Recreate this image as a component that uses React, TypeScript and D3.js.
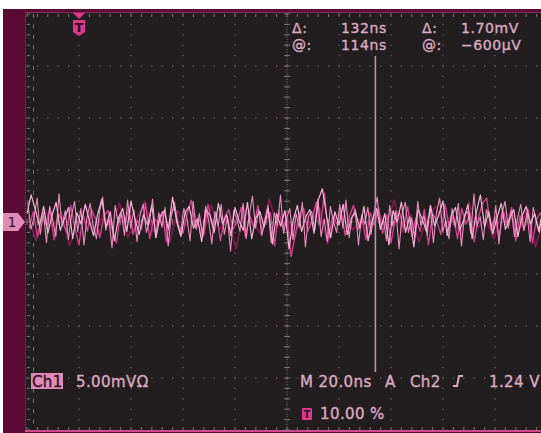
import React from 'react';
import * as d3 from 'd3';

// scope settings: 20 ns/div, 5 mV/div, trigger at 10 %
const TIME_DOMAIN = [-20, 180]; // ns, 10 divisions
const VOLT_DOMAIN = [-20, 20]; // mV, 8 divisions
const CURSOR_T = 114; // ns

// sampled noise (mV), light pink acquisition
const traceA = [
	0.8, 2.6, 1.2, -0.4, 1.5, -1.1, 0.6, 1.9, -0.8, 0.3, 1.4, -1.6, 0.9, -0.2, 1.7, 0.1, -1.3, 0.8, 2.2, -0.5,
	1.0, -1.8, 0.4, 1.3, -0.9, 2.0, 0.2, -1.2, 0.7, -0.3, 1.6, -1.5, 0.5, 1.1, -0.7, 2.4, 0.0, -1.4, 0.9, 1.5,
	-0.6, 0.3, -1.9, 1.2, 0.6, -1.0, 1.8, -0.2, 0.7, -1.3, 1.4, 0.1, -0.8, 1.9, -1.6, 0.4, 1.0, -0.5, 1.3, -2.1,
	0.8, -0.4, 1.1, -2.6, 0.2, 1.6, -0.9, 0.5, 1.2, -1.1, 2.1, 3.2, 0.6, -1.5, 1.0, -0.3, 1.7, -1.2, 0.4, 0.9,
	-0.6, 1.5, -1.8, 0.2, 1.3, -0.7, 0.8, -2.2, 1.1, 0.0, 1.9, -1.0, 0.5, -2.4, 1.2, 0.3, -0.9, 1.6, -0.4, 0.7,
	2.0, -1.3, 0.6, 1.4, -0.8, 0.2, 1.7, -1.6, 0.9, 2.6, -0.5, 1.0, -1.1, 0.4, 1.8, -0.7, 0.3, 1.2, -1.4, 0.6,
	1.5, -0.2, 0.8, -0.9, 1.1,
];

// second light pink acquisition, finer sampling
const traceD = [
	1.9, -0.7, 0.4, 2.3, -1.2, 0.9, -2.0, 1.5, 0.2, -1.4, 2.7, -0.3, 1.1, -1.7, 0.6, 2.0, -0.9, 1.3, -2.2, 0.5,
	1.8, -0.4, -1.6, 1.0, 2.4, -0.8, 0.3, -2.5, 1.6, -0.1, 0.8, -1.3, 2.1, -0.6, 1.2, -1.9, 0.7, 1.7, -1.0, 0.0,
	2.2, -1.5, 0.9, -0.5, 1.4, -2.3, 0.6, 1.9, -0.2, -1.1, 1.3, 0.4, -1.8, 2.0, -0.7, 0.8, -1.4, 1.5, 0.1, -2.1,
	1.0, -0.4, 1.7, -1.2, 0.5, -2.8, 1.1, 0.3, -0.9, 1.8, -1.6, 0.7, 2.5, -0.6, 1.2, -1.3, 0.2, 1.6, -2.0, 0.9,
	-0.3, 2.6, -1.1, 0.4, 1.3, -1.7, 0.8, -0.5, 1.9, -2.4, 0.6, 1.0, -0.8, 2.2, -1.4, 0.3, -1.9, 1.5, 0.0, -1.0,
	1.7, -0.6, 2.1, -1.5, 0.5, 1.2, -2.2, 0.7, -0.2, 1.4, -1.2, 0.9, 2.4, -0.7, 0.2, -1.8, 1.6, -0.4, 1.1, -2.6,
	0.8, 1.9, -1.0, 0.4, -1.5, 2.0, -0.3, 0.6, -1.3, 1.5, -2.0, 0.9, 2.3, -0.9, 0.1, -1.6, 1.3, -0.5, 1.8, -2.3,
	0.7, 1.0, -1.1, 2.7, -0.4, 0.5, -1.7, 1.2, 0.3, -1.2, 1.6, -2.1, 0.8, 2.0, -0.6, 1.1, -1.4, 0.4, 1.7, -0.8,
	0.9, -1.9, 1.4, 0.2, -1.0, 1.3, -0.5, 2.1,
];

// magenta acquisition
const traceB = [
	-0.6, 1.0, -1.4, 0.5, -0.2, 1.3, -1.7, 0.8, 0.1, -1.0, 1.6, -0.5, -2.2, 0.7, -0.9, 1.2, 0.3, -1.5, 0.6, 1.1,
	-0.8, -2.0, 0.9, -0.3, 1.4, -1.2, 0.2, -0.7, 1.8, -1.6, 0.4, -0.1, 1.0, -1.9, 0.6, 1.5, -0.4, -1.1, 0.8, 2.1,
	-0.6, 0.3, -1.3, 1.7, -0.2, 0.9, -1.8, 0.5, 1.2, -0.7, 0.0, 1.4, -1.4, 0.7, -0.5, 1.6, -1.0, 0.2, 0.9, -2.3,
	1.1, -0.6, 0.4, -3.3, -1.2, 0.8, 1.3, -0.9, 0.1, 1.9, -0.4, 2.8, -1.6, 0.6, -0.2, 1.1, -1.3, 0.5, 1.6, -0.8,
	0.3, -1.7, 0.9, -0.3, 1.4, -1.1, 0.7, -2.0, 0.2, 1.0, -0.6, 1.5, -1.4, 0.4, -0.9, 1.2, -2.2, 0.8, 0.1, -1.2,
	1.7, -0.5, 0.6, -1.6, 1.3, -0.2, 0.9, -1.9, 0.4, 1.8, 2.3, -0.7, 0.5, -1.4, 1.0, -0.3, 1.4, -1.8, 0.6, -0.8,
	1.2, -2.0, 0.3, 0.9, -0.4,
];

// dark persistence points
const traceC = [
	0.5, -1.8, 1.2, -0.4, 0.9, -2.3, 0.3, 1.5, -1.1, 0.7, -0.6, 1.8, -1.5, 0.2, 2.0, -0.9, 0.6, -2.0, 1.1, -0.3,
	0.8, -1.4, 1.6, -0.7, 0.4, -2.6, 1.3, 0.0, -1.2, 2.2, -0.5, 0.9, -1.7, 1.0, -0.2, 1.4, -2.1, 0.5, 1.7, -0.8,
	0.3, -1.5, 1.2, -0.6, 2.1, -1.0, 0.7, -1.9, 0.4, 1.5, -0.3, 0.8, -1.3, 1.9, -0.6, 0.2, -1.6, 1.1, 0.5, -0.9,
	1.3, -2.4, 0.6,
];

const DT_A = 1.6;
const DT_B = 1.6;
const DT_C = 3.2;
const DT_D = 1.2;

const readoutRows = [
	{ label: '\u0394:', time: '132ns', vlabel: '\u0394:', volt: '1.70mV' },
	{ label: '@:', time: '114ns', vlabel: '@:', volt: '\u2212600\u00b5V' },
];

const W = 541;
const H = 433;
const X0 = 27;
const X1 = 547;
const Y0 = 14;
const Y1 = 430;

const App: React.FC = () => {
	const x = d3.scaleLinear().domain(TIME_DOMAIN).range([X0, X1]);
	const y = d3.scaleLinear().domain(VOLT_DOMAIN).range([Y1, Y0]);

	const line = (dt: number, offset: number) =>
		d3
			.line<number>()
			.x((_, i) => x(TIME_DOMAIN[0] + offset + i * dt))
			.y((d) => y(d));

	const xDivs = d3.range(0, 11).map((i) => TIME_DOMAIN[0] + i * 20);
	const yDivs = d3.range(0, 9).map((i) => VOLT_DOMAIN[0] + i * 5);
	const xMinor = d3.range(0, 51).map((i) => TIME_DOMAIN[0] + i * 4);
	const yMinor = d3.range(0, 41).map((i) => VOLT_DOMAIN[0] + i * 1);

	const font = "'DejaVu Sans', sans-serif";
	const txt = '#dcaac2';
	const hot = '#e2358c';
	const cx = x(80);
	const cy = y(0);
	const tx = x(0);

	return (
		<svg width={W} height={H} style={{ position: 'absolute', left: 0, top: 0 }}>
			<rect x={0} y={0} width={W} height={H} fill="#ffffff" />
			<rect x={3} y={9} width={W - 3} height={H - 9} fill="#5b0a33" />
			<rect x={25} y={12} width={W - 25} height={Y1 - 12} fill="#221e1f" />
			<line x1={25} x2={W} y1={12.5} y2={12.5} stroke="#8a2a5c" strokeWidth={1} />
			<line x1={25.5} x2={25.5} y1={12} y2={Y1} stroke="#a03a70" strokeWidth={1} strokeDasharray="1 1" />
			<rect x={25} y={Y1} width={W - 25} height={2} fill="#d2488e" />

			{/* dotted grid */}
			<g fill="#676062">
				{xDivs.slice(1, 10).map((t) =>
					yMinor.map((v) => <rect key={`v${t}_${v}`} x={x(t) - 0.6} y={y(v) - 0.6} width={1.3} height={1.3} />),
				)}
				{yDivs.slice(1, 8).map((v) =>
					xMinor.map((t) => <rect key={`h${t}_${v}`} x={x(t) - 0.6} y={y(v) - 0.6} width={1.3} height={1.3} />),
				)}
			</g>

			{/* centre cross with fine ticks */}
			<g stroke="#7c7376" strokeWidth={1}>
				<line x1={X0} x2={X1} y1={cy} y2={cy} strokeDasharray="1 1.5" />
				<line x1={cx} x2={cx} y1={Y0} y2={Y1} strokeDasharray="1 1.5" />
				{xMinor.map((t) => (
					<line key={`cx${t}`} x1={x(t)} x2={x(t)} y1={cy - 3} y2={cy + 3} />
				))}
				{yMinor.map((v) => (
					<line key={`cy${v}`} x1={cx - 3} x2={cx + 3} y1={y(v)} y2={y(v)} />
				))}
				{xMinor.map((t) => (
					<line key={`et${t}`} x1={x(t)} x2={x(t)} y1={Y0} y2={Y0 + 3} />
				))}
				{xMinor.map((t) => (
					<line key={`eb${t}`} x1={x(t)} x2={x(t)} y1={Y1 - 3} y2={Y1} />
				))}
				{yMinor.map((v) => (
					<line key={`el${v}`} x1={X0} x2={X0 + 3} y1={y(v)} y2={y(v)} />
				))}
				<line x1={33.5} x2={33.5} y1={Y0} y2={Y1} strokeDasharray="4 6.4" />
			</g>

			{/* traces */}
			<g fill="none" strokeLinejoin="round">
				<path d={line(DT_C, 0.4)(traceC) ?? ''} stroke="#7e1c4c" strokeWidth={1.6} />
				<path d={line(DT_B, 0.8)(traceB) ?? ''} stroke="#d2408e" strokeWidth={1.4} />
				<path d={line(DT_D, 0.3)(traceD) ?? ''} stroke="#e88cbc" strokeWidth={1.1} />
				<path d={line(DT_A, 0)(traceA) ?? ''} stroke="#f4b2d4" strokeWidth={1.2} />
			</g>

			{/* cursor */}
			<line x1={x(CURSOR_T)} x2={x(CURSOR_T)} y1={56} y2={372} stroke="#b898a8" strokeWidth={1.6} />

			{/* readouts */}
			<g fontFamily={font} fontSize={14} fill={txt} stroke={txt} strokeWidth={0.35} letterSpacing={0.6}>
				{readoutRows.map((r, i) => (
					<g key={r.time} transform={`translate(0,${33 + i * 17})`}>
						<text x={292}>{r.label}</text>
						<text x={341}>{r.time}</text>
						<text x={422}>{r.vlabel}</text>
						<text x={461}>{r.volt}</text>
					</g>
				))}
			</g>

			{/* trigger position marker */}
			<path d={`M${tx - 6},13 L${tx + 6},13 L${tx},19 Z`} fill={hot} />
			<path d={`M${tx - 6},20 L${tx + 6},20 L${tx + 6},32 L${tx},36 L${tx - 6},32 Z`} fill={hot} />
			<text x={tx} y={32} textAnchor="middle" fontFamily={font} fontWeight="bold" fontSize={13} fill="#2a1420">
				T
			</text>

			{/* channel 1 ground marker */}
			<path d={`M3,${cy - 9} L18,${cy - 9} L25,${cy} L18,${cy + 9} L3,${cy + 9} Z`} fill="#e08ab8" />
			<text x={12} y={cy + 5} textAnchor="middle" fontFamily={font} fontSize={14} fill="#3a0a22">
				1
			</text>

			{/* bottom readouts */}
			<rect x={31} y={373} width={32} height={16} fill="#e08ab8" />
			<g fontFamily={font} fontSize={15} fill={txt} stroke={txt} strokeWidth={0.35} letterSpacing={0.4}>
				<text x={32} y={387} fill="#2a1420" stroke="#2a1420">
					Ch1
				</text>
				<text x={76} y={387}>{'5.00mV\u03a9'}</text>
				<text x={300} y={387}>M 20.0ns</text>
				<text x={385} y={387}>A</text>
				<text x={410} y={387}>Ch2</text>
				<text x={489} y={387}>1.24 V</text>
				<text x={320} y={419}>10.00 %</text>
			</g>
			<path d="M453,386 L457,386 L459,376 L463,376" fill="none" stroke={txt} strokeWidth={2} />
			<rect x={302} y={408} width={10} height={12} rx={1} fill={hot} />
			<text x={307} y={418} textAnchor="middle" fontFamily={font} fontWeight="bold" fontSize={10} fill="#2a1420">
				T
			</text>
		</svg>
	);
};

export default App;
